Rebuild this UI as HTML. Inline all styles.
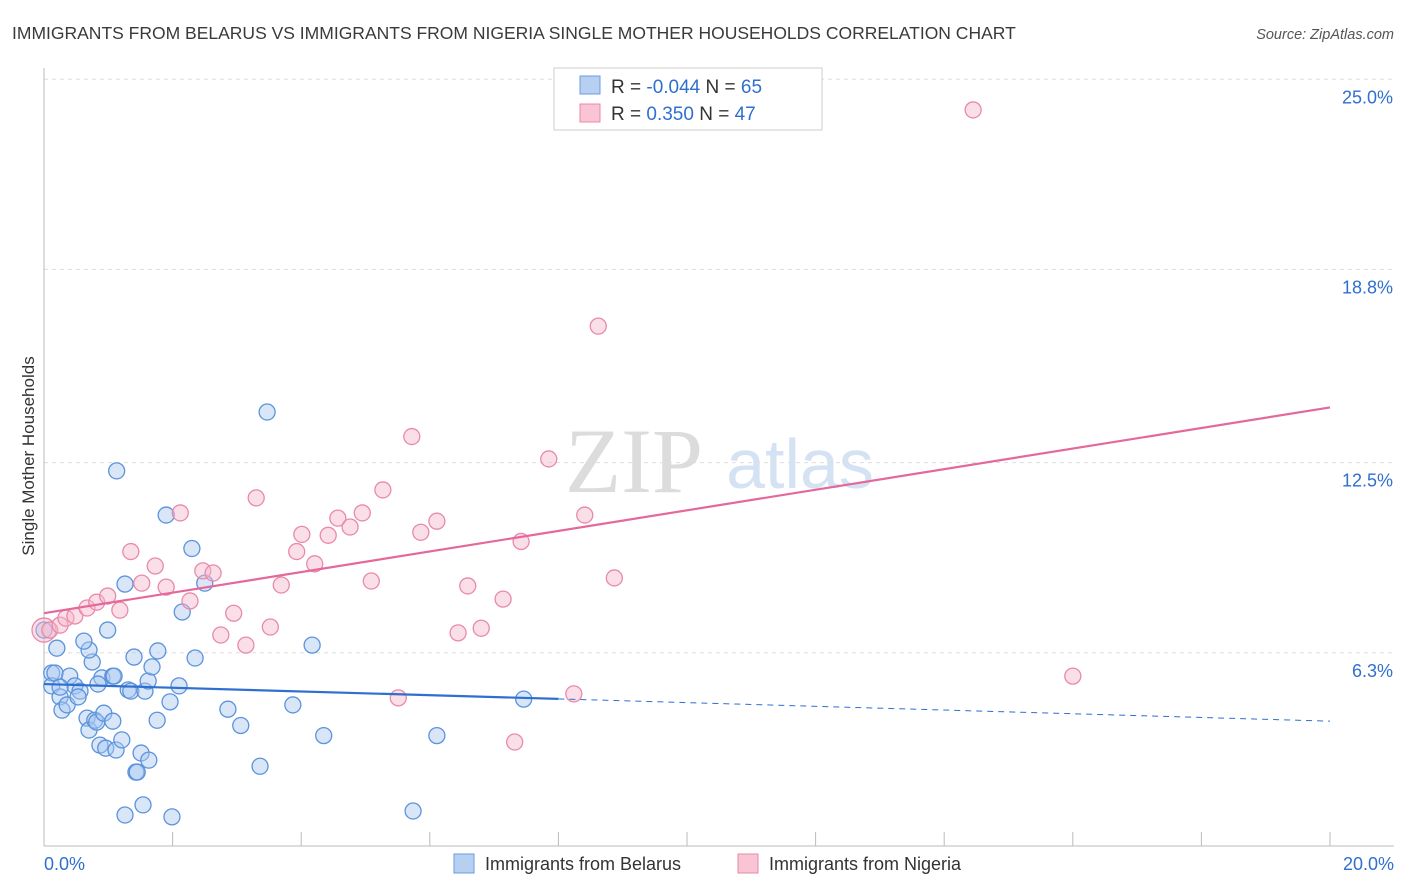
<!DOCTYPE html>
<html><head><meta charset="utf-8">
<style>
body{margin:0;background:#fff;font-family:"Liberation Sans",sans-serif;}
#wrap{position:relative;width:1406px;height:892px;overflow:hidden;}
</style></head>
<body>
<div id="wrap">
<svg id="svg" width="1406" height="892" xmlns="http://www.w3.org/2000/svg">
<text x="12" y="39" font-size="17.5" fill="#3a3a3a">IMMIGRANTS FROM BELARUS VS IMMIGRANTS FROM NIGERIA SINGLE MOTHER HOUSEHOLDS CORRELATION CHART</text>
<text x="1394" y="39" font-size="14.5" fill="#555" font-style="italic" text-anchor="end">Source: ZipAtlas.com</text>
<text x="634" y="492" font-size="92" fill="#dcdcdc" font-family="Liberation Serif,serif" text-anchor="middle">ZIP</text>
<text x="800" y="488" font-size="70" fill="#d4e2f4" text-anchor="middle">atlas</text>
<text x="34" y="456" font-size="17" fill="#333" text-anchor="middle" transform="rotate(-90 34 456)">Single Mother Households</text>
<g id="grid"></g><g id="pts"></g><g id="lines"></g>
<g>
<rect x="554" y="68" width="268" height="62" fill="#fff" stroke="#ccc"/>
<rect x="580" y="76" width="20" height="18" fill="#b7d0f2" stroke="#6a9de0"/>
<rect x="580" y="104" width="20" height="18" fill="#f9c4d4" stroke="#e88aa8"/>
<text x="611" y="93" font-size="19" fill="#333">R = <tspan fill="#2f6fd0">-0.044</tspan>   N = <tspan fill="#2f6fd0">65</tspan></text>
<text x="611" y="120" font-size="19" fill="#333">R =   <tspan fill="#2f6fd0">0.350</tspan>   N = <tspan fill="#2f6fd0">47</tspan></text>
</g>
<g>
<rect x="454" y="854" width="20" height="19" fill="#b7d0f2" stroke="#6a9de0"/>
<text x="485" y="870" font-size="18" fill="#333">Immigrants from Belarus</text>
<rect x="738" y="854" width="20" height="19" fill="#f9c4d4" stroke="#e88aa8"/>
<text x="769" y="870" font-size="18" fill="#333">Immigrants from Nigeria</text>
</g>
<text x="44" y="870" font-size="18" fill="#2f6fd0">0.0%</text>
<text x="1394" y="870" font-size="18" fill="#2f6fd0" text-anchor="end">20.0%</text>
</svg>
</div>
<script>
const yTicks=[25.0,18.8,12.5,6.3];
const yTickLabels=["25.0%","18.8%","12.5%","6.3%"];
const xTicks=[0,2,4,6,8,10,12,14,16,18,20];
const belX=[0,0.2,0.12,0.12,0.25,0.28,0.36,0.4,0.48,0.56,0.53,0.67,0.7,0.79,0.75,0.7,0.62,0.82,0.93,0.87,0.96,1.12,1.21,1.13,1.26,0.99,0.9,1.07,1.31,1.35,1.4,1.57,1.62,1.68,1.77,1.51,1.63,1.43,1.45,1.76,1.96,2.1,2.15,2.3,2.35,1.9,2.5,2.86,3.06,3.36,3.47,3.87,4.17,4.35,5.74,6.11,7.46,1.26,1.54,1.99,1.09,0.17,1.07,0.25,0.84];
const belY=[7.04,6.45,5.64,5.22,4.86,4.43,4.6,5.54,5.22,5.05,4.86,4.17,3.78,4.1,6.0,6.39,6.68,4.04,4.33,3.29,3.19,3.13,3.46,12.23,8.54,7.04,5.48,5.54,5.09,5.05,6.16,5.05,5.38,5.84,6.36,3.03,2.8,2.41,2.41,4.1,4.7,5.22,7.63,9.7,6.13,10.79,8.57,4.46,3.93,2.6,14.15,4.6,6.55,3.6,1.14,3.6,4.79,1.01,1.34,0.95,5.54,5.64,4.07,5.18,5.28];
const nigX=[0,0.09,0.25,0.34,0.48,0.67,0.82,0.99,1.18,1.35,1.52,1.73,1.9,2.12,2.27,2.47,2.63,2.75,2.95,3.14,3.3,3.52,3.69,3.93,4.01,4.21,4.42,4.57,4.76,4.95,5.09,5.27,5.51,5.72,5.86,6.11,6.44,6.59,6.8,7.14,7.32,7.42,7.85,8.24,8.41,8.62,8.87,14.45,16.0];
const nigY=[7.04,7.04,7.2,7.43,7.5,7.76,7.95,8.15,7.69,9.6,8.57,9.13,8.44,10.86,7.99,8.97,8.9,6.88,7.59,6.55,11.35,7.14,8.51,9.6,10.16,9.2,10.13,10.69,10.4,10.86,8.64,11.61,4.83,13.35,10.23,10.59,6.95,8.48,7.1,8.05,3.39,9.93,12.62,4.96,10.79,16.95,8.74,24.0,5.54];
const belFit=[5.28,4.07];
const nigFit=[7.59,14.3];
const NS="http://www.w3.org/2000/svg";
const sx=v=>44+v*64.3, sy=v=>846-v*30.67;
function mk(t,a,p){const e=document.createElementNS(NS,t);for(const k in a)e.setAttribute(k,a[k]);p.appendChild(e);return e;}
const grid=document.getElementById('grid'),pts=document.getElementById('pts'),lines=document.getElementById('lines');
yTicks.forEach((v,i)=>{
 const l=mk('line',{x1:44,x2:1394,y1:sy(v),y2:sy(v),stroke:'#ddd','stroke-dasharray':'4 4'},grid);
 
 
 const t=mk('text',{x:1393,y:sy(v)+24,'font-size':18,fill:'#2f6fd0','text-anchor':'end'},grid);
 t.textContent=yTickLabels[i];
 
 
});
const ax=mk('line',{x1:44,x2:44,y1:68,y2:846,stroke:'#bbb'},grid);


const bx=mk('line',{x1:44,x2:1394,y1:846,y2:846,stroke:'#bbb'},grid);


xTicks.forEach(v=>{const t=mk('line',{x1:sx(v),x2:sx(v),y1:832,y2:846,stroke:'#bbb'},grid);
 
 });
function dots(X,Y,f,s,n){X.forEach((x,i)=>{const c=mk('circle',{cx:sx(x),cy:sy(Y[i]),r:i==0&&n=='nigeria-point'?12:8,fill:f,'fill-opacity':0.45,stroke:s,'stroke-width':1.3},pts);
 
 });}
dots(belX,belY,'#a9c8f0','#5b93dd','belarus-point');
dots(nigX,nigY,'#f7b8cc','#e88aa8','nigeria-point');
const l1=mk('line',{x1:sx(0),y1:sy(nigFit[0]),x2:sx(20),y2:sy(nigFit[1]),stroke:'#e5689a','stroke-width':2.2},lines);


const bm=belFit[0]+(belFit[1]-belFit[0])*0.4;
const l2=mk('line',{x1:sx(0),y1:sy(belFit[0]),x2:sx(8),y2:sy(bm),stroke:'#2f6fd0','stroke-width':2.2},lines);


const l3=mk('line',{x1:sx(8),y1:sy(bm),x2:sx(20),y2:sy(belFit[1]),stroke:'#2f6fd0','stroke-width':1,'stroke-dasharray':'6 5'},lines);


</script>
</body></html>
